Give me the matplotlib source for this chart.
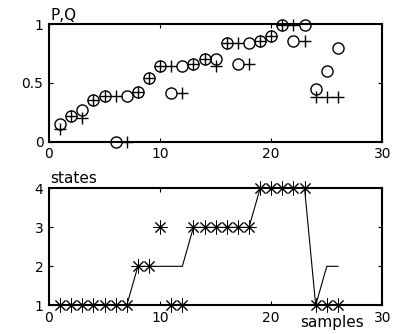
import matplotlib
matplotlib.use("Agg")
import matplotlib.pyplot as plt

plt.rcParams['font.family'] = ['DejaVu Sans']

samples = list(range(1, 27))
P = [0.15, 0.22, 0.27, 0.35, 0.39, 0.00, 0.39, 0.42, 0.54, 0.64, 0.41, 0.64, 0.66,
     0.70, 0.70, 0.84, 0.66, 0.84, 0.86, 0.90, 0.99, 0.86, 0.99, 0.45, 0.60, 0.80]
Q = [0.11, 0.22, 0.20, 0.35, 0.39, 0.39, 0.00, 0.42, 0.54, 0.64, 0.64, 0.41, 0.66,
     0.70, 0.64, 0.84, 0.84, 0.66, 0.86, 0.90, 0.99, 0.99, 0.86, 0.38, 0.38, 0.38]
states_obs = [1, 1, 1, 1, 1, 1, 1, 2, 2, 3, 1, 1, 3, 3, 3, 3, 3, 3, 4, 4, 4, 4, 4, 1, 1, 1]
states_est = [1, 1, 1, 1, 1, 1, 1, 2, 2, 2, 2, 2, 3, 3, 3, 3, 3, 3, 4, 4, 4, 4, 4, 1, 2, 2]

fig = plt.figure(figsize=(3.95, 3.34), dpi=100)
ax1 = fig.add_axes([0.124, 0.576, 0.844, 0.352])
ax2 = fig.add_axes([0.124, 0.086, 0.844, 0.350])

fs = 10
for ax in (ax1, ax2):
    for s in ax.spines.values():
        s.set_linewidth(1.5)
    ax.tick_params(direction='in', top=True, right=True, length=3, width=0.8,
                   labelsize=fs, pad=4)
    ax.set_xlim(0, 30)
    ax.set_xticks([0, 10, 20, 30])

ax1.plot(samples, P, linestyle='none', marker='o', markersize=8, markerfacecolor='none',
         markeredgecolor='black', markeredgewidth=1.0, clip_on=False)
ax1.plot(samples, Q, linestyle='none', marker='+', markersize=9, color='black',
         markeredgewidth=1.0, clip_on=False)
ax1.set_ylim(0, 1)
ax1.set_yticks([0, 0.5, 1])
ax1.set_yticklabels(['0', '0.5', '1'])
ax1.text(0.005, 1.034, 'P,Q', transform=ax1.transAxes, fontsize=11, ha='left', va='baseline')

ax2.plot(samples, states_est, color='black', linewidth=0.8, clip_on=False)
ax2.plot(samples, states_obs, linestyle='none', marker=(8, 2, 0), markersize=10,
         color='black', markeredgewidth=0.7, clip_on=False)
ax2.set_ylim(1, 4)
ax2.set_yticks([1, 2, 3, 4])
ax2.text(0.003, 1.043, 'states', transform=ax2.transAxes, fontsize=11, ha='left', va='baseline')
ax2.text(0.753, -0.19, 'samples', transform=ax2.transAxes, fontsize=11, ha='left', va='baseline')

fig.savefig('out.png', dpi=100)
